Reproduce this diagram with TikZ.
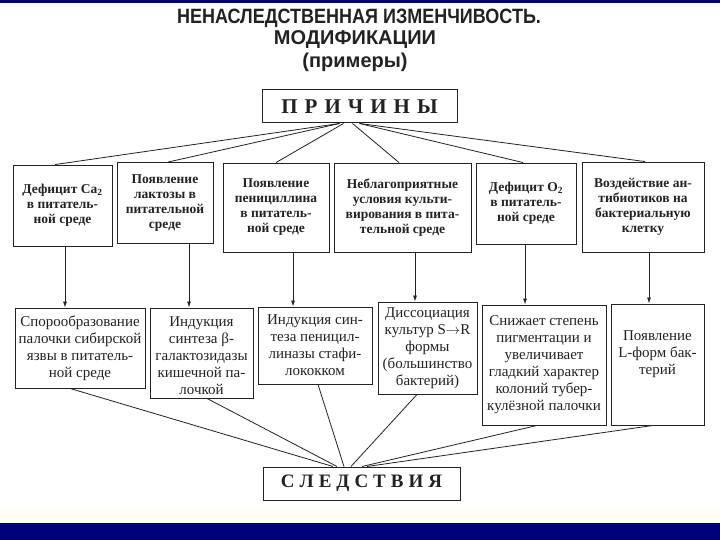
\documentclass[tikz,border=0pt]{standalone}
\usepackage{fontspec}
\setmainfont{Liberation Serif}
\newfontfamily\titlefont{Liberation Sans}
\usetikzlibrary{arrows.meta,calc}
\definecolor{navy}{HTML}{00007A}
\definecolor{ink}{HTML}{222222}
\newcommand\gapp{\hspace{7pt}}
\newcommand\gaps{\hspace{5pt}}
\begin{document}
\begin{tikzpicture}[x=1pt,y=-1pt,
  box/.style={draw=ink,line width=0.9pt,align=center,inner sep=0pt,text=ink},
  cause/.style={box,font=\bfseries\fontsize{13.5}{15}\selectfont},
  effect/.style={box,font=\fontsize{15}{17}\selectfont},
  etext/.style={align=center,inner sep=0pt,text=ink,font=\fontsize{15}{17}\selectfont},
  head/.style={box,line width=1pt,font=\bfseries\fontsize{21}{24}\selectfont},
  ttl/.style={text=ink,font=\titlefont\bfseries\fontsize{18}{20}\selectfont},
  ttlb/.style={text=ink,font=\titlefont\bfseries\fontsize{20}{22}\selectfont},
  link/.style={draw=ink,line width=0.8pt},
  arr/.style={link,-{Latex[length=6pt,width=4pt]}}]
\useasboundingbox (0,0) rectangle (720,540);
\fill[white] (0,0) rectangle (720,540);
\fill[navy] (0,0) rectangle (720,3);
\fill[yellow!4] (0,510) rectangle (720,523);
\fill[navy] (0,523) rectangle (720,540);

% title
\node[ttl] (title1) at (359,18) {\scalebox{1}[1.15]{НЕНАСЛЕДСТВЕННАЯ ИЗМЕНЧИВОСТЬ.}};
\node[ttlb] (title2) at (355,40) {МОДИФИКАЦИИ};
\node[ttlb] (title3) at (355,62) {(примеры)};

% headers
\node[head, minimum width=195pt, minimum height=33pt] (pr) at (359.5,106.5)
  {П\gapp Р\gapp И\gapp Ч\gapp И\gapp Н\gapp Ы};
\node[head, font=\bfseries\fontsize{19}{22}\selectfont, minimum width=197pt, minimum height=33pt] (sl) at (361.5,483.5)
  {С\gaps Л\gaps Е\gaps Д\gaps С\gaps Т\gaps В\gaps И\gaps Я};

% causes
\node[cause, minimum width=99pt, minimum height=81pt] (t1) at (62.5,205.5)
  {Дефицит Ca\textsubscript{2}\\в питатель-\\ной среде};
\node[cause, minimum width=96pt, minimum height=81pt] (t2) at (165,203)
  {Появление\\лактозы в\\питательной\\среде};
\node[cause, minimum width=106pt, minimum height=89pt] (t3) at (276,207.5)
  {Появление\\пенициллина\\в питатель-\\ной среде};
\node[cause, minimum width=137pt, minimum height=89pt] (t4) at (402.5,207.5)
  {Неблагоприятные\\условия культи-\\вирования в пита-\\тельной среде};
\node[cause, minimum width=100pt, minimum height=81pt] (t5) at (526,203.5)
  {Дефицит O\textsubscript{2}\\в питатель-\\ной среде};
\node[cause, minimum width=122pt, minimum height=90pt] (t6) at (643,207)
  {Воздействие ан-\\тибиотиков на\\бактериальную\\клетку};

% effects
\node[effect, minimum width=130pt, minimum height=80pt] (b1) at (80,348)
  {Спорообразование\\палочки сибирской\\язвы в питатель-\\ной среде};
\node[box, minimum width=103pt, minimum height=90pt] (b2) at (201.5,353) {};
\node[etext] (b2t) at (201.5,356)
  {Индукция\\синтеза β-\\галактозидазы\\кишечной па-\\лочкой};
\node[effect, minimum width=114pt, minimum height=77pt] (b3) at (315,345.5)
  {Индукция син-\\теза пеницил-\\линазы стафи-\\лококком};
\node[effect, minimum width=99pt, minimum height=92pt] (b4) at (427.5,348)
  {Диссоциация\\культур S$\to$R\\формы\\(большинство\\бактерий)};
\node[effect, minimum width=124pt, minimum height=120pt] (b5) at (544,365)
  {Снижает степень\\пигментации и\\увеличивает\\гладкий характер\\колоний тубер-\\кулёзной палочки};
\node[box, minimum width=93pt, minimum height=121pt] (b6) at (657.5,364.5) {};
\node[etext] (b6t) at (657.5,354)
  {Появление\\L-форм бак-\\терий};

% fan from ПРИЧИНЫ
\draw[link] ($(pr.south)+(-20,0)$) -- ($(t1.north)+(-7.5,0)$);
\draw[link] ($(pr.south)+(-20,0)$) -- ($(t2.north)+(3,0)$);
\draw[link] ($(pr.south)+(-16,0)$) -- (t3.north);
\draw[link] ($(pr.south)+(-7,0)$) -- ($(t4.north)+(-3.5,0)$);
\draw[link] ($(pr.south)+(0,0)$) -- ($(t5.north)+(-3,0)$);
\draw[link] ($(pr.south)+(0,0)$) -- ($(t6.north)+(2,0)$);

% vertical arrows
\coordinate (v1) at (65,0);
\coordinate (v2) at (189,0);
\coordinate (v3) at (293,0);
\coordinate (v4) at (415,0);
\coordinate (v5) at (525,0);
\coordinate (v6) at (649,0);
\draw[arr] (t1.south -| v1) -- (b1.north -| v1);
\draw[arr] (t2.south -| v2) -- (b2.north -| v2);
\draw[arr] (t3.south -| v3) -- (b3.north -| v3);
\draw[arr] (t4.south -| v4) -- (b4.north -| v4);
\draw[arr] (t5.south -| v5) -- (b5.north -| v5);
\draw[arr] (t6.south -| v6) -- (b6.north -| v6);

% fan into СЛЕДСТВИЯ
\coordinate (c1) at (70,0);   \coordinate (d1) at (333,0);
\coordinate (c2) at (207,0);  \coordinate (d2) at (337,0);
\coordinate (c3) at (318,0);  \coordinate (d3) at (344,0);
\coordinate (c4) at (417,0);  \coordinate (d4) at (351,0);
\coordinate (c5) at (537,0);  \coordinate (d5) at (362,0);
\coordinate (c6) at (653,0);  \coordinate (d6) at (367,0);
\draw[link] (b1.south -| c1) -- (sl.north -| d1);
\draw[link] (b2.south -| c2) -- (sl.north -| d2);
\draw[link] (b3.south -| c3) -- (sl.north -| d3);
\draw[link] (b4.south -| c4) -- (sl.north -| d4);
\draw[link] (b5.south -| c5) -- (sl.north -| d5);
\draw[link] (b6.south -| c6) -- (sl.north -| d6);
\end{tikzpicture}
\end{document}
